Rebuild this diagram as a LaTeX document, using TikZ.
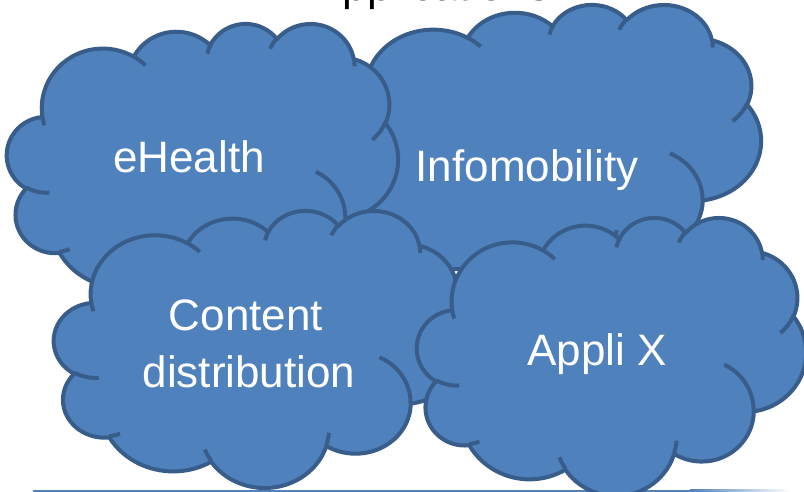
\documentclass[tikz,border=0pt]{standalone}
\usepackage{fontspec}
\setmainfont{Liberation Sans}
\definecolor{cloudfill}{HTML}{4F81BD}
\definecolor{cloudline}{HTML}{385D8A}
% elliptical arc given as in DrawingML: radii, start angle, sweep (visual angles, degrees)
\newcommand\carc[4]{\pgfextra{%
    \pgfmathparse{atan2((#1)*sin(#3),(#2)*cos(#3))}\global\let\cta\pgfmathresult
    \pgfmathparse{atan2((#1)*sin((#3)+(#4)),(#2)*cos((#3)+(#4)))}\global\let\ctb\pgfmathresult
    \pgfmathparse{\ctb-\cta}\global\let\ctd\pgfmathresult
    \pgfmathparse{\ctd-360*round((\ctd-(#4))/360)}\global\let\ctd\pgfmathresult
  }arc[start angle=\cta, delta angle=\ctd, x radius=#1, y radius=#2]}
\newcommand\cloudoutline{(3.900,14.370)
  \carc{6.753}{9.190}{-190.48748}{123.78053}
  \carc{5.333}{7.267}{-144.10238}{89.94523}
  \carc{4.365}{5.945}{-145.80792}{99.72302}
  \carc{4.857}{6.595}{-130.98607}{117.24173}
  \carc{5.333}{7.273}{-78.70888}{109.02692}
  \carc{6.775}{9.220}{-46.26725}{130.269}
  \carc{5.785}{7.867}{0.62502}{114.03333}
  \carc{6.752}{9.215}{22.4516}{115.17255}
  \carc{7.720}{10.543}{66.24263}{75.71102}
  \carc{4.360}{5.918}{-274.94208}{146.73557}
  \carc{4.345}{5.945}{-246.8285}{152.51885} -- cycle}
\newcommand\cloudinner{(4.693,26.177) \carc{4.345}{5.945}{86.742}{26.4295}
  (6.928,34.899) \carc{4.360}{5.918}{73.61047}{11.44747}
  (16.478,39.090) \carc{6.752}{9.215}{137.62415}{14.0811}
  (28.827,34.751) \carc{6.752}{9.215}{6.45327}{15.99835}
  (34.129,22.954) \carc{5.785}{7.867}{-70.29235}{70.91737}
  (41.798,15.354) \carc{5.333}{7.273}{30.31803}{27.7515}
  (38.324,5.426) \carc{4.857}{6.595}{-13.74433}{14.8589}
  (29.078,3.952) \carc{4.857}{6.595}{-149.18145}{18.19537}
  (22.141,4.720) \carc{4.365}{5.945}{-163.49427}{17.68635}
  (14.000,5.192) \carc{6.753}{9.190}{-66.70695}{12.31935}
  (4.127,15.789) \carc{6.753}{9.190}{157.65435}{11.85817}}
\newcommand\drawcloud[4]{% x0 y0 W H (pixels)
  \begin{scope}[shift={(#1,#2)}, xscale=#3/43.2, yscale=#4/43.2]
    \path[cloudbody] \cloudoutline;
    \path[cloudstroke] \cloudinner;
  \end{scope}}
\tikzset{
  cloudbody/.style={fill=cloudfill, draw=cloudline, line width=4pt, line join=round},
  cloudstroke/.style={draw=cloudline, line width=4pt},
  cloudtext/.style={text=white, inner sep=0pt, anchor=base, font=\fontsize{44}{52}\selectfont},
}
\begin{document}
\begin{tikzpicture}[x=1pt, y=-1pt]
  \useasboundingbox (0,0) rectangle (804,492);
  \clip (0,0) rectangle (804,492);
  \node[anchor=base west, inner sep=0pt, text=black, font=\fontsize{44}{52}\selectfont] (title) at (313,1) {Applications};
  \draw[cloudfill, line width=2pt] (33,490.5) -- (690,490.5);
  \shade[left color=cloudfill, right color=white] (690,489.5) rectangle (790,491.5);
  \drawcloud{327}{4}{434}{281}
  \drawcloud{7}{23}{391}{280}
  \drawcloud{54}{210}{412}{277}
  \drawcloud{417}{217}{389}{278}
  \node[cloudtext] (ehealth) at (189,173) {eHealth};
  \node[cloudtext] (infomobility) at (527,182) {Infomobility};
  \node[cloudtext] (content1) at (246,330) {Content};
  \node[cloudtext] (content2) at (249,387) {distribution};
  \node[cloudtext] (applix) at (597,365) {Appli X};
\end{tikzpicture}
\end{document}
